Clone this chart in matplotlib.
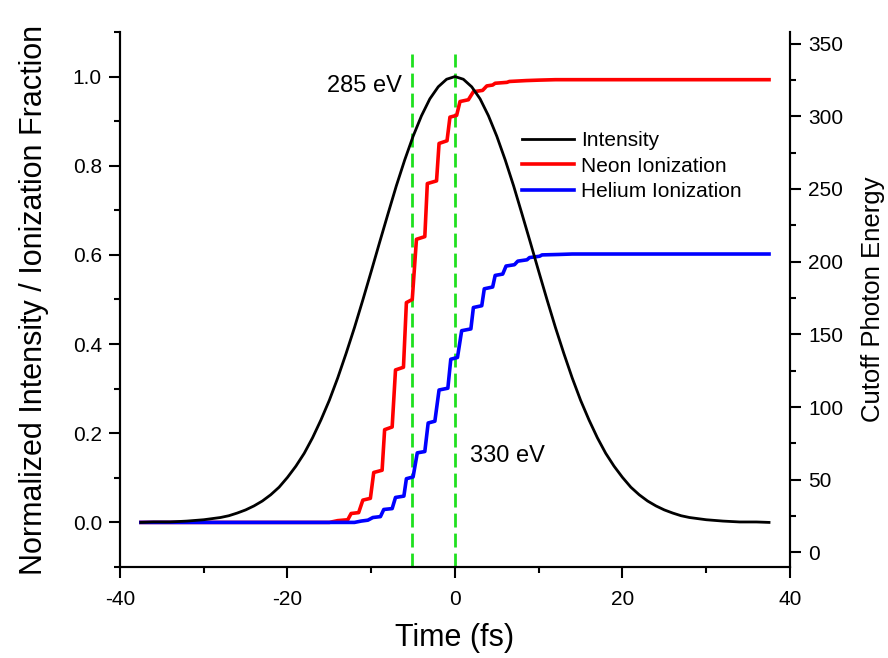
import matplotlib.pyplot as plt
from matplotlib.ticker import MultipleLocator

plt.rcParams['font.family'] = ['Liberation Sans', 'DejaVu Sans']
plt.rcParams['axes.unicode_minus'] = False

# Pulse intensity (normalized) vs time in fs
time_int = [-37.5, -36, -34, -32, -30, -28, -27, -26, -25, -24, -23, -22, -21, -20,
            -19, -18, -17, -16, -15, -14, -13, -12, -11, -10, -9, -8, -7, -6, -5,
            -4, -3, -2, -1, 0, 1, 2, 3, 4, 5, 6, 7, 8, 9, 10, 11, 12, 13, 14, 15,
            16, 17, 18, 19, 20, 21, 22, 23, 24, 25, 26, 27, 28, 30, 32, 34, 36, 37.5]
intensity = [0.000, 0.001, 0.001, 0.003, 0.006, 0.011, 0.015, 0.021, 0.028, 0.037,
             0.048, 0.062, 0.079, 0.101, 0.126, 0.155, 0.190, 0.230, 0.274, 0.324,
             0.379, 0.437, 0.499, 0.563, 0.628, 0.692, 0.755, 0.813, 0.866, 0.912,
             0.950, 0.977, 0.994, 1.000, 0.994, 0.977, 0.950, 0.912, 0.866, 0.813,
             0.755, 0.692, 0.628, 0.563, 0.499, 0.437, 0.379, 0.324, 0.274, 0.230,
             0.190, 0.155, 0.126, 0.101, 0.079, 0.062, 0.048, 0.037, 0.028, 0.021,
             0.015, 0.011, 0.006, 0.003, 0.001, 0.001, 0.000]

# Neon ionization fraction (step-like)
neon_t = [-37.5, -15.0, -14.0, -12.8, -12.4, -11.5, -11.0, -10.1, -9.7, -8.7, -8.4, -7.5,
          -7.1, -6.15, -5.8, -5.1, -4.6, -3.6, -3.3, -2.2, -1.9, -0.95, -0.6, 0.2,
          0.6, 1.6, 2.2, 3.3, 3.8, 4.5, 4.8, 6.2, 6.5, 8.5, 10.0, 12.0, 37.5]
neon_frac = [0.0, 0.0, 0.004, 0.006, 0.020, 0.022, 0.050, 0.054, 0.112, 0.117, 0.208, 0.214,
             0.342, 0.348, 0.493, 0.500, 0.635, 0.641, 0.760, 0.766, 0.850, 0.856, 0.909, 0.913,
             0.944, 0.948, 0.966, 0.969, 0.979, 0.981, 0.985, 0.987, 0.989, 0.991, 0.992, 0.993, 0.993]

# Helium ionization fraction (step-like)
helium_t = [-37.5, -12.0, -11.2, -10.4, -9.8, -8.9, -8.5, -7.5, -7.1, -6.1, -5.8, -5.0,
            -4.5, -3.6, -3.2, -2.4, -1.9, -0.85, -0.5, 0.3, 0.8, 1.9, 2.2, 3.2, 3.5, 4.5,
            4.8, 5.7, 6.1, 7.1, 7.5, 8.6, 8.9, 10.1, 10.4, 12.4, 14.0, 37.5]
helium_frac = [0.0, 0.0, 0.003, 0.005, 0.011, 0.013, 0.029, 0.031, 0.056, 0.059, 0.098, 0.102,
               0.156, 0.159, 0.223, 0.227, 0.297, 0.301, 0.366, 0.370, 0.430, 0.434, 0.482, 0.486,
               0.524, 0.528, 0.554, 0.557, 0.575, 0.578, 0.586, 0.589, 0.594, 0.597, 0.600, 0.601,
               0.602, 0.602]

# Cutoff markers
cutoff_t = [-5.1, 0.0]
cutoff_labels = ['285 eV', '330 eV']

fig = plt.figure(figsize=(8.88, 6.58), dpi=100)
ax = fig.add_axes([0.1351, 0.1383, 0.7545, 0.8131])
ax2 = ax.twinx()

for t in cutoff_t:
    ax.plot([t, t], [-0.1, 1.05], color='#1fe01f', lw=2.0, ls=(0, (5, 2.2)), zorder=1)

ax.plot(time_int, intensity, color='black', lw=2.0, label='Intensity', zorder=3)
ax.plot(neon_t, neon_frac, color='red', lw=2.6, label='Neon Ionization', zorder=2)
ax.plot(helium_t, helium_frac, color='blue', lw=2.6, label='Helium Ionization', zorder=2)

ax.text(-10.8, 0.978, cutoff_labels[0], fontsize=17, ha='center', va='center')
ax.text(6.3, 0.148, cutoff_labels[1], fontsize=17, ha='center', va='center')

ax.set_xlim(-40, 40)
ax.set_ylim(-0.1, 1.1)
ax2.set_ylim(-10, 358)

ax.xaxis.set_major_locator(MultipleLocator(20))
ax.xaxis.set_minor_locator(MultipleLocator(10))
ax.yaxis.set_minor_locator(MultipleLocator(0.1))
ax2.yaxis.set_minor_locator(MultipleLocator(25))
ax.set_yticks([0.0, 0.2, 0.4, 0.6, 0.8, 1.0])
ax.set_yticklabels(['0.0', '0.2', '0.4', '0.6', '0.8', '1.0'])
ax2.set_yticks([0, 50, 100, 150, 200, 250, 300, 350])

for a in (ax, ax2):
    a.spines['top'].set_visible(False)
    for s in a.spines.values():
        s.set_linewidth(1.5)
    a.tick_params(which='major', direction='out', length=8, width=1.5, labelsize=15, pad=5)
    a.tick_params(which='minor', direction='out', length=4.5, width=1.5)
ax.tick_params(axis='x', which='major', pad=8.5)

ax.set_xlabel('Time (fs)', fontsize=22, labelpad=10)
ax.set_ylabel('Normalized Intensity / Ionization Fraction', fontsize=22, labelpad=17)
ax2.set_ylabel('Cutoff Photon Energy', fontsize=18.5, labelpad=13)

ax.legend(loc='upper left', bbox_to_anchor=(0.600, 0.815), frameon=False, fontsize=15,
          handlelength=2.5, handletextpad=0.35, labelspacing=0.32, borderpad=0, borderaxespad=0)

fig.savefig('out.png', dpi=100)
